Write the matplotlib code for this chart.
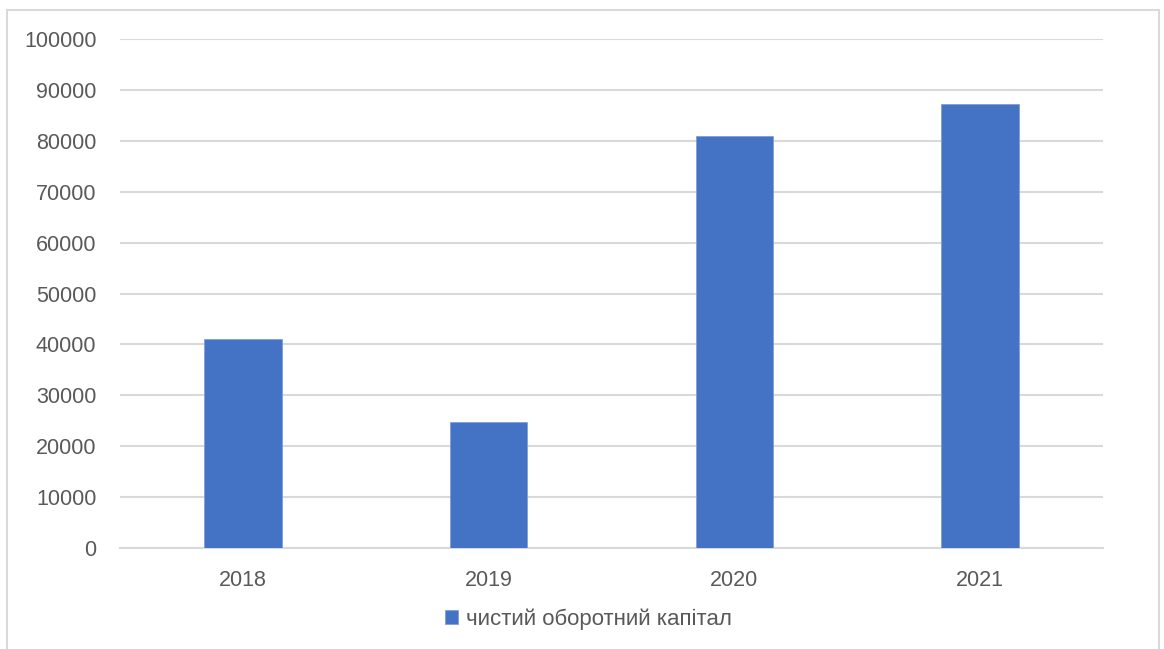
import matplotlib
matplotlib.use("Agg")
import matplotlib.pyplot as plt
from matplotlib.patches import Rectangle

years = ["2018", "2019", "2020", "2021"]
capital = [41100, 24700, 80900, 87200]
series_name = "чистий оборотний капітал"
yticks = [0, 10000, 20000, 30000, 40000, 50000, 60000, 70000, 80000, 90000, 100000]

W, H = 1164, 649
fig = plt.figure(figsize=(W / 100, H / 100), dpi=100)
plt.rcParams['font.family'] = ['Liberation Sans', 'DejaVu Sans']

# outer chart frame (bottom edge cut off in the reference)
fig.patches.append(Rectangle((7 / W, -0.01), (1159 - 7) / W, 1 - 10 / H + 0.01,
                             transform=fig.transFigure, fill=False,
                             edgecolor="#d9d9d9", linewidth=1.5))

ax = fig.add_axes([120 / W, (H - 548) / H, (1103 - 120) / W, (548 - 39) / H])
x = range(len(years))
bars = ax.bar(x, capital, width=0.315, color="#4472C4", edgecolor="#7f9fd8",
              linewidth=0.6, label=series_name, zorder=3)

ax.set_xlim(-0.5, 3.5)
ax.set_ylim(0, 100000)
ax.set_yticks(yticks)
ax.set_yticklabels([str(v) for v in yticks])
ax.set_xticks(list(x))
ax.set_xticklabels(years)
ax.yaxis.grid(True, color="#d9d9d9", linewidth=1.5, zorder=0)
ax.set_axisbelow(True)
for s in ["top", "right", "left"]:
    ax.spines[s].set_visible(False)
ax.spines["bottom"].set_color("#d9d9d9")
ax.spines["bottom"].set_linewidth(1.5)
ax.tick_params(axis="both", length=0, colors="#595959", labelsize=15.5)
ax.tick_params(axis="y", pad=17)
ax.tick_params(axis="x", pad=16)

fig.legend(handles=[bars], labels=[series_name], loc="center",
           bbox_to_anchor=(588 / W, 1 - 619 / H), frameon=False,
           fontsize=16, labelcolor="#595959", handlelength=0.6,
           handleheight=0.6, handletextpad=0.35)

fig.savefig("out.png", dpi=100)
